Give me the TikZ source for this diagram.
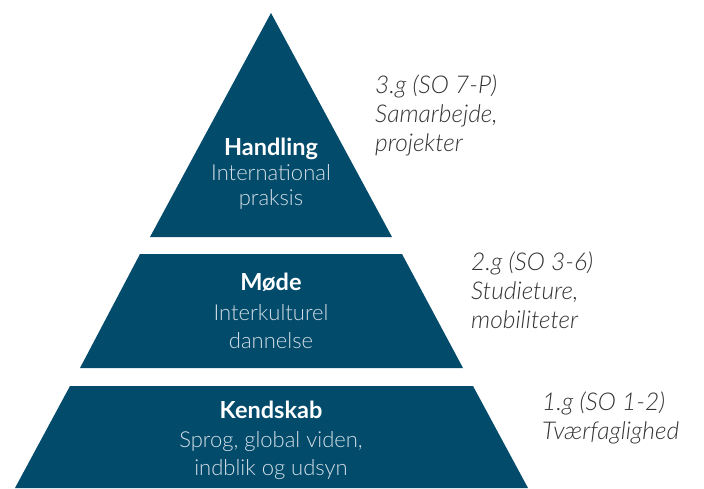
\documentclass[tikz,border=0pt]{standalone}
\usepackage{fontspec}
\setmainfont{Lato}
\newfontfamily\lightFont{Lato Light}
\usepackage{tikz}
\usetikzlibrary{positioning}
\definecolor{pyrBlue}{HTML}{024B6B}
\definecolor{pyrText}{HTML}{D3DEE6}
\definecolor{noteText}{HTML}{333333}
\tikzstyle{layer}=[fill=pyrBlue]
\tikzstyle{layerTitle}=[anchor=base, inner sep=0pt, text=white, font=\fontsize{23.5}{28}\selectfont\bfseries]
\tikzstyle{layerText}=[anchor=base, inner sep=0pt, text=pyrText, align=center, font=\fontsize{22}{28}\selectfont\lightFont]
\tikzstyle{sideNote}=[anchor=base west, inner sep=0pt, text=noteText, align=left, font=\fontsize{24.5}{29}\selectfont\lightFont\itshape]

\begin{document}
\begin{tikzpicture}[x=1pt, y=-1pt]
      \useasboundingbox (0,0) rectangle (704,488);

      % pyramid layers
      \path[layer] (271,13) -- (392,237) -- (150,237) -- cycle;
      \path[layer] (140,254) -- (402,254) -- (463,368) -- (80,368) -- cycle;
      \path[layer] (70,386) -- (473,386) -- (528,488) -- (15,488) -- cycle;

      % texts in the layers (base = last line)
      \node[layerTitle] (handling) at (271,155) {Handling};
      \node[layerText, font=\fontsize{22}{25}\selectfont\lightFont] (handlingText) at (271,205) {International\\praksis};
      \node[layerTitle] (moede) at (271,290) {Møde};
      \node[layerText] (moedeText) at (271,348) {Interkulturel\\dannelse};
      \node[layerTitle] (kendskab) at (271,418) {Kendskab};
      \node[layerText] (kendskabText) at (271,475) {Sprog, global viden,\\indblik og udsyn};

      % notes to the right
      \node[sideNote] (note3) at (375,151) {3.g (SO 7-P)\\Samarbejde,\\projekter};
      \node[sideNote] (note2) at (471,328) {2.g (SO 3-6)\\Studieture,\\mobiliteter};
      \node[sideNote] (note1) at (542,439) {1.g (SO 1-2)\\Tværfaglighed};
    \end{tikzpicture}
\end{document}
